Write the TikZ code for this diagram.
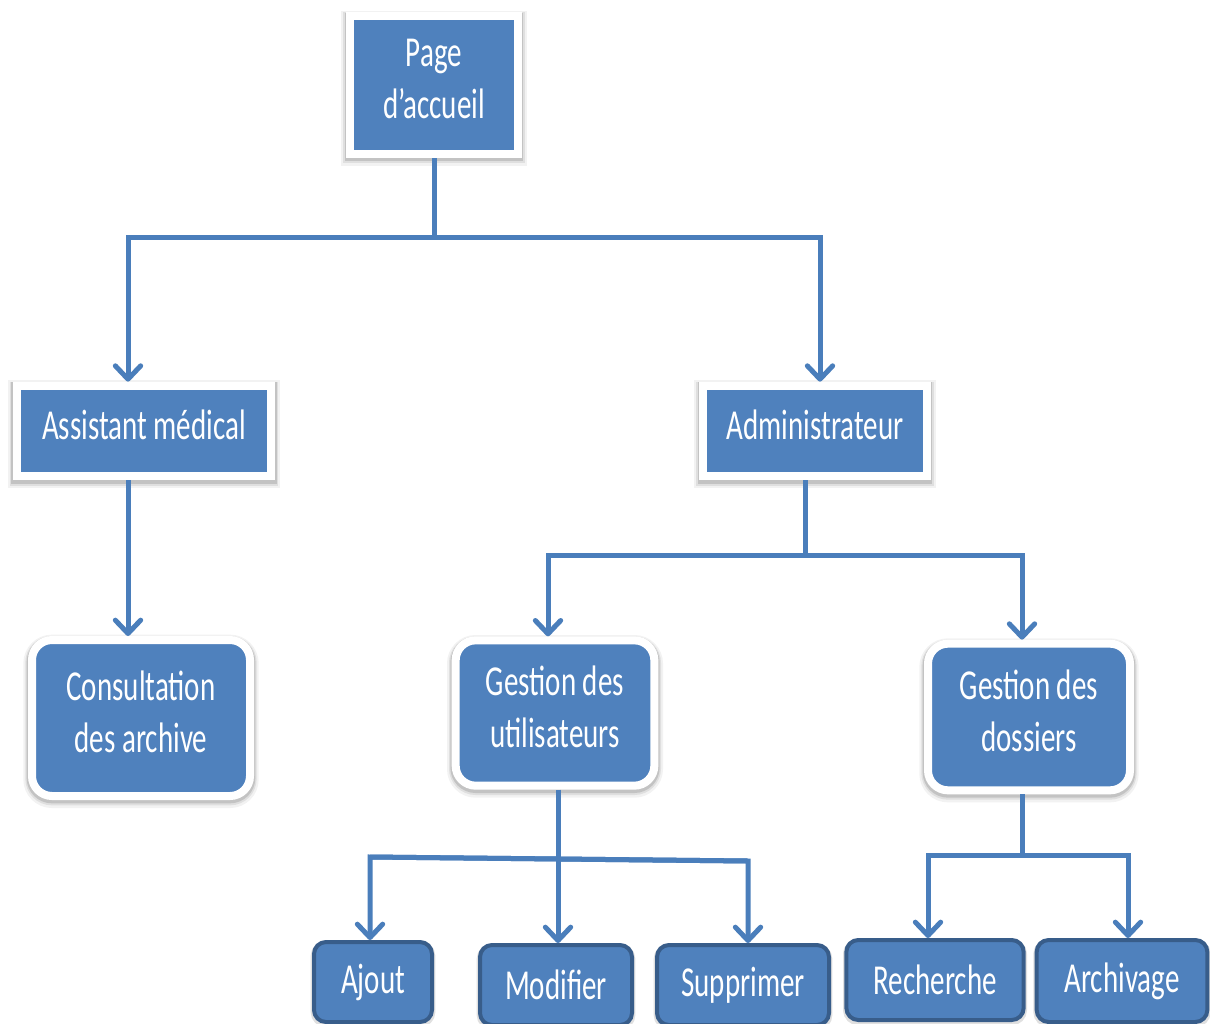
\documentclass[tikz,border=0pt]{standalone}
\usepackage{fontspec}
\setmainfont{Carlito}[FakeStretch=0.68]
\usetikzlibrary{arrows.meta}
\definecolor{boxblue}{HTML}{4F81BD}
\definecolor{lineblue}{HTML}{4A7EBB}
\definecolor{edgeblue}{HTML}{385D8A}
\tikzset{
  label text/.style={text=white,align=center,font=\fontsize{32}{39}\selectfont,inner sep=0pt},
  % soft grey halo around a white-framed box, heavier below
  halo/.style={
    preaction={fill=none,draw=black,draw opacity=0.05,line width=13pt,transform canvas={yshift=-2.5pt}},
    preaction={fill=none,draw=black,draw opacity=0.08,line width=10pt,transform canvas={yshift=-2pt}},
    preaction={fill=none,draw=black,draw opacity=0.12,line width=8pt,transform canvas={yshift=-1.5pt}}},
  framed/.style={label text,halo,fill=boxblue,draw=white,line width=6pt,text depth=9pt},
  framedround/.style={framed,rounded corners=15pt},
  leaf/.style={label text,fill=boxblue,draw=edgeblue,line width=3pt,rounded corners=9pt,
    preaction={fill=none,draw=black,draw opacity=0.12,line width=5pt,transform canvas={yshift=-1.5pt}}},
  wire/.style={draw=lineblue,line width=3.75pt,line join=miter},
  arr/.style={wire,-{Straight Barb[length=10pt,width=19pt,round]}},
}
\begin{document}
\begin{tikzpicture}[x=0.75pt,y=-0.75pt]
\fill[white] (0,0) rectangle (1210,1024);
\useasboundingbox (0,0) rectangle (1210,1024);

% bus points of the connectors
\coordinate (busL) at (128,237);
\coordinate (busR) at (820,237);
\coordinate (busL2) at (548,555);
\coordinate (busR2) at (1022,555);
\coordinate (busL3) at (370,857);
\coordinate (busM3) at (558,859);
\coordinate (busR3) at (748,861);
\coordinate (busL4) at (928,855);
\coordinate (busR4) at (1128,855);

% boxes
\node[framed,minimum width=126pt,minimum height=103.5pt] (page) at (434,85) {Page\\d’accueil};
\node[framed,minimum width=191pt,minimum height=68pt] (assist) at (144,431) {Assistant médical};
\node[framed,minimum width=168pt,minimum height=68pt] (admin) at (815,431) {Administrateur};
\node[framedround,minimum width=163.5pt,minimum height=117pt] (consult) at (141,718) {Consultation\\des archive};
\node[framedround,minimum width=149pt,minimum height=109pt] (users) at (555,713) {Gestion des\\utilisateurs};
\node[framedround,minimum width=151.5pt,minimum height=110pt] (files) at (1029,717) {Gestion des\\dossiers};
\node[leaf,minimum width=88.5pt,minimum height=60pt] (ajout) at (373,982) {Ajout};
\node[leaf,minimum width=114pt,minimum height=60pt] (modif) at (556,985) {Modifier};
\node[leaf,minimum width=129pt,minimum height=60pt] (suppr) at (743,985) {Supprimer};
\node[leaf,minimum width=133pt,minimum height=60pt] (rech) at (935,980) {Recherche};
\node[leaf,minimum width=128pt,minimum height=61.5pt] (arch) at (1122,981) {Archivage};

% home page to the two roles
\draw[wire] (page.south) -- (page.south |- busL);
\draw[arr] (busR) -- (busL) -- (busL |- assist.north);
\draw[arr] (busL) -- (busR) -- (busR |- admin.north);

% medical assistant
\draw[arr] (assist.south -| busL) -- (consult.north -| busL);

% administrator
\draw[wire] (admin.south -| 805,0) -- (805,555);
\draw[arr] (busR2) -- (busL2) -- (busL2 |- users.north);
\draw[arr] (busL2) -- (busR2) -- (busR2 |- files.north);

% user management
\draw[wire] (users.south -| busM3) -- (busM3);
\draw[arr] (busR3) -- (busL3) -- (busL3 |- ajout.north);
\draw[arr] (busM3) -- (busM3 |- modif.north);
\draw[arr] (busL3) -- (busR3) -- (busR3 |- suppr.north);

% file management
\draw[wire] (files.south -| 1022,0) -- (1022,855);
\draw[arr] (busR4) -- (busL4) -- (busL4 |- rech.north);
\draw[arr] (busL4) -- (busR4) -- (busR4 |- arch.north);
\end{tikzpicture}
\end{document}
